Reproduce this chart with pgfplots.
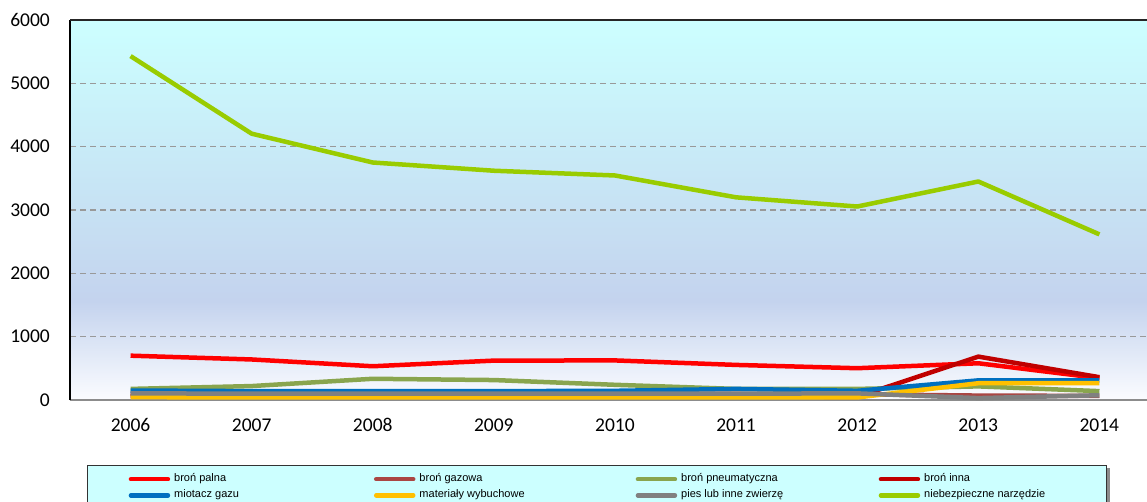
\documentclass[border=0pt]{standalone}
\usepackage{fontspec}
\setmainfont{Liberation Sans}
\newfontfamily\calibri{Carlito}
\usepackage{pgfplots}
\pgfplotsset{compat=1.18}

\definecolor{cPalna}{HTML}{FF0000}
\definecolor{cGazowa}{HTML}{AA4643}
\definecolor{cPneum}{HTML}{89A54E}
\definecolor{cInna}{HTML}{C00000}
\definecolor{cMiotacz}{HTML}{0070C0}
\definecolor{cWybuch}{HTML}{FFC000}
\definecolor{cPies}{HTML}{808080}
\definecolor{cNarz}{HTML}{99CC00}
\definecolor{bgcyan}{HTML}{CCFFFF}
\definecolor{bglav}{HTML}{C4D3EE}
\definecolor{bgwhite}{HTML}{FBFCFF}
\definecolor{legcyan}{HTML}{CCFFFF}
\definecolor{gridgray}{HTML}{999999}

\pgfdeclareverticalshading{plotbg}{100bp}{color(0bp)=(bgwhite); color(25bp)=(bgwhite); color(38bp)=(bglav); color(75bp)=(bgcyan); color(100bp)=(bgcyan)}

\pgfplotsset{
  mylegimg/.style={legend image code/.code={\path (0pt,0pt) (41pt,0pt); \draw[##1, line cap=round] (2pt,0pt) -- (39pt,0pt);}},
}

\begin{document}
\begin{tikzpicture}[x=1pt,y=1pt]
% legend shadow (behind the legend box)
\fill[black!45] (90,33) rectangle (1110,-30);
\begin{axis}[
  at={(70pt,101pt)}, anchor=south west,
  scale only axis, width=1077pt, height=380pt,
  xmin=2005.5, xmax=2014.393, ymin=0, ymax=6000,
  xtick={2006,2007,...,2014}, ytick={0,1000,...,6000},
  axis lines*=left, separate axis lines,
  x axis line style={draw=gray!90, line width=2.2pt},
  y axis line style={draw=black, line width=1.3pt},
  axis background/.style={shading=plotbg},
  major tick length=0pt,
  /pgf/number format/assume math mode=true,
  /pgf/number format/1000 sep={},
  xticklabel style={anchor=north, inner sep=0pt, text height=12.4pt, text depth=0pt, yshift=-18.5pt, font=\calibri\fontsize{19.5}{20}\selectfont},
  yticklabel style={anchor=east, inner sep=0pt, text height=12.4pt, text depth=0pt, xshift=-20pt, font=\calibri\fontsize{19.5}{20}\selectfont},
  ymajorgrids,
  grid style={dash pattern=on 6pt off 4pt, line width=1.4pt, color=gridgray},
  legend columns=4,
  legend cell align=left,
  legend style={at={(axis description cs:0.01578,-0.17105)}, anchor=north west,
    fill=legcyan, draw=black!80, line width=1.4pt,
    inner xsep=39pt, inner ysep=8pt, column sep=0pt, row sep=5.2pt,
    nodes={inner sep=0pt, text height=8pt, text depth=3pt, font=\fontsize{11}{12}\selectfont}},
  mylegimg,
  every axis plot/.append style={line width=4.5pt, line join=round, no markers},
]
\addplot[cPalna] coordinates {(2006,700) (2007,640) (2008,533) (2009,622) (2010,625) (2011,554) (2012,502) (2013,580) (2014,345)};
\addlegendentry{\hspace{2pt}\makebox[197.8pt][l]{broń palna}}
\addplot[cGazowa] coordinates {(2006,95) (2007,95) (2008,130) (2009,100) (2010,100) (2011,95) (2012,90) (2013,70) (2014,65)};
\addlegendentry{\hspace{2pt}\makebox[214.2pt][l]{broń gazowa}}
\addplot[cPneum] coordinates {(2006,175) (2007,220) (2008,335) (2009,315) (2010,240) (2011,175) (2012,175) (2013,215) (2014,140)};
\addlegendentry{\hspace{2pt}\makebox[195.5pt][l]{broń pneumatyczna}}
\addplot[cInna] coordinates {(2006,60) (2007,60) (2008,60) (2009,60) (2010,60) (2011,55) (2012,50) (2013,685) (2014,360)};
\addlegendentry{\hspace{2pt}\makebox[143pt][l]{broń inna}}
\addplot[cMiotacz] coordinates {(2006,150) (2007,140) (2008,140) (2009,140) (2010,145) (2011,175) (2012,145) (2013,310) (2014,310)};
\addlegendentry{\hspace{2pt}miotacz gazu}
\addplot[cWybuch] coordinates {(2006,45) (2007,40) (2008,40) (2009,40) (2010,40) (2011,40) (2012,40) (2013,265) (2014,265)};
\addlegendentry{\hspace{2pt}materiały wybuchowe}
\addplot[cPies] coordinates {(2006,105) (2007,100) (2008,100) (2009,100) (2010,100) (2011,100) (2012,105) (2013,30) (2014,75)};
\addlegendentry{\hspace{2pt}pies lub inne zwierzę}
\addplot[cNarz] coordinates {(2006,5430) (2007,4205) (2008,3750) (2009,3620) (2010,3545) (2011,3200) (2012,3055) (2013,3450) (2014,2615)};
\addlegendentry{\hspace{2pt}niebezpieczne narzędzie}
\draw[black!85, line width=1.6pt] (rel axis cs:0,1) -- (rel axis cs:1,1);
\end{axis}
\pgfresetboundingbox
\useasboundingbox (0,0) rectangle (1147,501);
\end{tikzpicture}
\end{document}
